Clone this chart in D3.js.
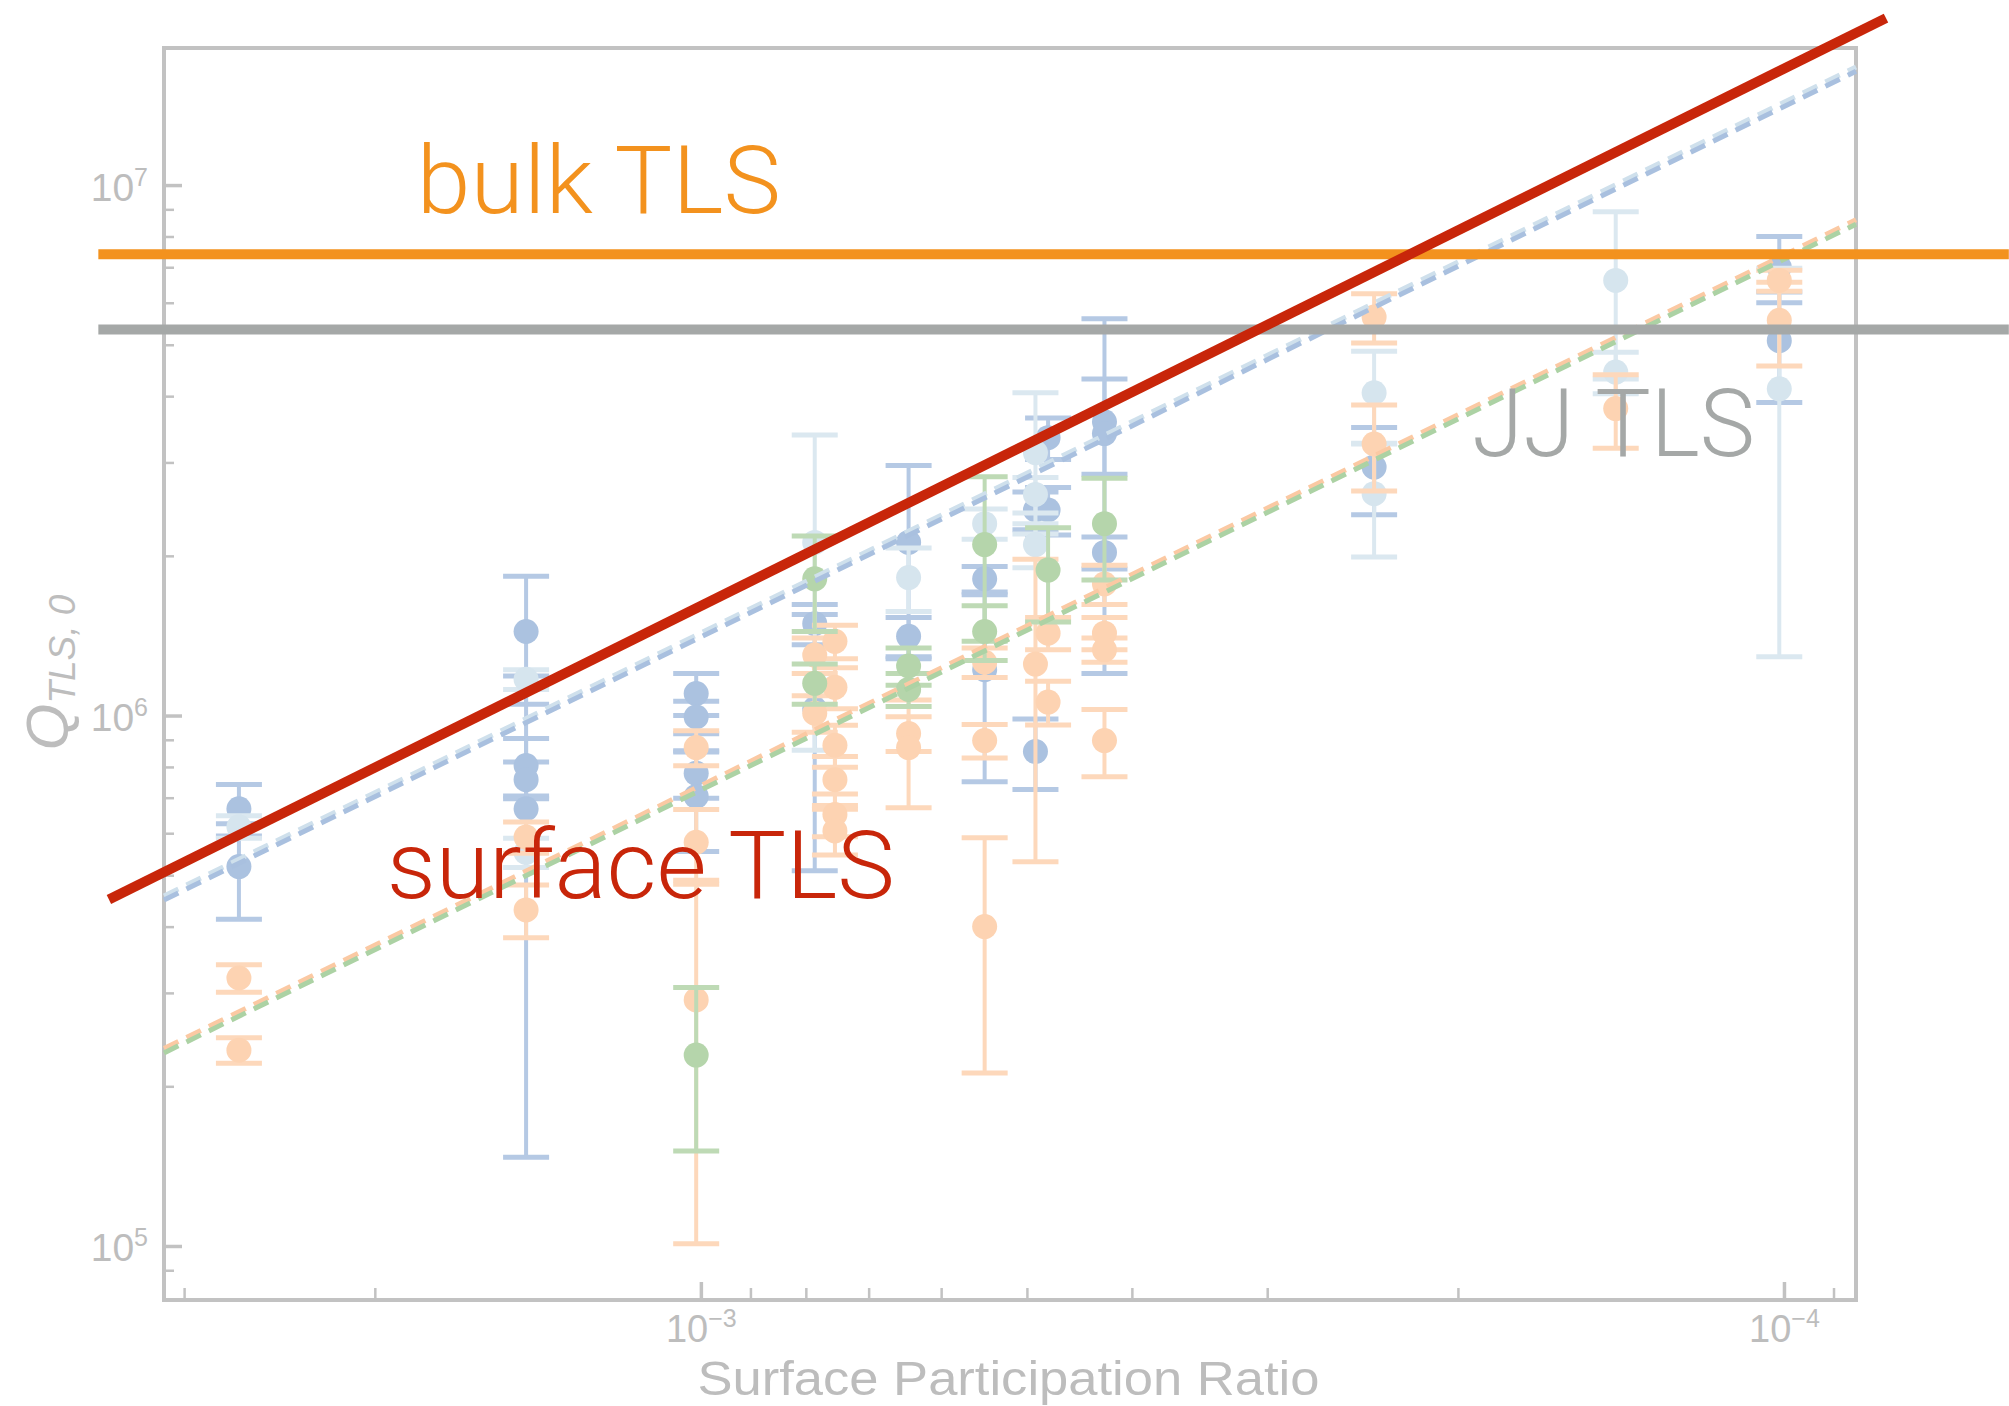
<!DOCTYPE html>
<html>
<head>
<meta charset="utf-8">
<script src="https://cdn.jsdelivr.net/npm/d3@7"></script>
<style>
  html, body { margin: 0; padding: 0; background: #fff; }
  svg { display: block; }
  .axis-text { font-family: "Liberation Sans", Arial, sans-serif; fill: #bdbdbd; }
  .note { font-family: Roboto, "Liberation Sans", sans-serif; font-weight: 300; }
</style>
</head>
<body>
<svg id="chart" width="2009" height="1406"></svg>
<script>
// axis ranges and ticks
const xDomain = [3.131e-3, 8.58e-5];
const yDomain = [7.91e4, 1.813e7];
const xMajorTicks = [1e-3, 1e-4];
const xMajorLabels = ["\u22123", "\u22124"];
const xMinorTicks = [3e-3, 2e-3, 9e-4, 8e-4, 7e-4, 6e-4, 5e-4, 4e-4, 3e-4, 2e-4, 9e-5];
const yMajorTicks = [1e5, 1e6, 1e7];
const yMajorLabels = ["5", "6", "7"];
const yMinorTicks = [9e4, 2e5, 3e5, 4e5, 5e5, 6e5, 7e5, 8e5, 9e5, 2e6, 3e6, 4e6, 5e6, 6e6, 7e6, 8e6, 9e6];

// measured points: [participation ratio, Q, error]
const blueSeries = [
  [2.67e-3, 6.67e5, 0.74e5], [2.67e-3, 5.19e5, 1.06e5],
  [1.45e-3, 1.44e6, 3.9e5], [1.45e-3, 8.05e5, 1.0e5], [1.45e-3, 7.57e5, 0.6e5], [1.45e-3, 6.67e5, 5.2e5],
  [1.01e-3, 1.10e6, 1.0e5], [1.01e-3, 9.94e5, 0.7e5], [1.01e-3, 7.78e5, 0.8e5], [1.01e-3, 7.04e5, 1.5e5],
  [7.85e-4, 1.49e6, 1.3e5], [7.85e-4, 1.03e6, 5.2e5],
  [6.43e-4, 2.12e6, 8.4e5], [6.43e-4, 1.41e6, 1.2e5],
  [5.47e-4, 1.81e6, 1.0e5], [5.47e-4, 1.22e6, 4.7e5],
  [4.91e-4, 2.44e6, 2.0e5], [4.91e-4, 8.55e5, 1.3e5],
  [4.78e-4, 3.34e6, 3.0e5], [4.78e-4, 2.44e6, 2.5e5],
  [4.24e-4, 3.58e6, 7.3e5], [4.24e-4, 3.40e6, 2.2e6], [4.24e-4, 2.03e6, 1.4e5],
  [2.39e-4, 2.94e6, 5.5e5],
  [1.01e-4, 7.0e6, 1.0e6], [1.01e-4, 5.09e6, 1.2e6]
];
const lightBlueSeries = [
  [2.67e-3, 6.17e5, 0.3e5],
  [1.45e-3, 1.17e6, 0.5e5], [1.45e-3, 5.52e5, 0.35e5],
  [7.85e-4, 2.12e6, 1.26e6],
  [6.43e-4, 1.82e6, 2.5e5],
  [5.47e-4, 2.30e6, 1.5e5],
  [4.91e-4, 3.13e6, 9.3e5], [4.91e-4, 2.61e6, 2.0e5], [4.91e-4, 2.10e6, 2.0e5],
  [2.39e-4, 4.06e6, 8.0e5], [2.39e-4, 2.62e6, 6.3e5],
  [1.43e-4, 6.61e6, 2.3e6], [1.43e-4, 4.44e6, 4.0e5],
  [1.01e-4, 4.13e6, 2.84e6]
];
const orangeSeries = [
  [2.67e-3, 3.20e5, 0.19e5], [2.67e-3, 2.34e5, 0.13e5],
  [1.45e-3, 5.9e5, 0.4e5], [1.45e-3, 4.30e5, 0.49e5],
  [1.01e-3, 8.70e5, 0.66e5], [1.01e-3, 5.77e5, 0.88e5], [1.01e-3, 2.91e5, 1.9e5],
  [7.85e-4, 1.30e6, 1.0e5], [7.85e-4, 1.01e6, 0.8e5],
  [7.52e-4, 1.38e6, 1.0e5], [7.52e-4, 1.13e6, 1.0e5], [7.52e-4, 8.79e5, 0.8e5],
  [7.52e-4, 7.57e5, 0.8e5], [7.52e-4, 6.51e5, 0.6e5], [7.52e-4, 6.06e5, 0.6e5],
  [6.43e-4, 9.25e5, 0.7e5], [6.43e-4, 8.70e5, 2.0e5],
  [5.47e-4, 1.26e6, 0.8e5], [5.47e-4, 8.97e5, 0.65e5], [5.47e-4, 4.0e5, 1.88e5],
  [4.91e-4, 1.25e6, 7.2e5],
  [4.78e-4, 1.43e6, 1.0e5], [4.78e-4, 1.06e6, 1.0e5],
  [4.24e-4, 1.77e6, 1.5e5], [4.24e-4, 1.43e6, 1.0e5], [4.24e-4, 1.33e6, 0.7e5], [4.24e-4, 8.97e5, 1.3e5],
  [2.39e-4, 5.64e6, 6.0e5], [2.39e-4, 3.25e6, 6.0e5],
  [1.43e-4, 3.79e6, 6.0e5],
  [1.01e-4, 6.61e6, 3.0e5], [1.01e-4, 5.56e6, 1.0e6]
];
const greenSeries = [
  [1.01e-3, 2.29e5, 0.78e5],
  [7.85e-4, 1.81e6, 3.7e5], [7.85e-4, 1.15e6, 1.0e5],
  [6.43e-4, 1.24e6, 1.0e5], [6.43e-4, 1.12e6, 0.8e5],
  [5.47e-4, 2.10e6, 7.2e5], [5.47e-4, 1.44e6, 1.7e5],
  [4.78e-4, 1.88e6, 3.8e5],
  [4.24e-4, 2.30e6, 5.0e5]
];

// fitted 1/p lines, endpoints read at the frame edges
const blueFit = [[3.131e-3, 4.49e5], [8.58e-5, 1.639e7]];
const lightBlueFit = [[3.131e-3, 4.57e5], [8.58e-5, 1.669e7]];
const orangeFit = [[3.131e-3, 2.356e5], [8.58e-5, 8.60e6]];
const greenFit = [[3.131e-3, 2.312e5], [8.58e-5, 8.44e6]];

// overlay limits
const surfaceLimit = [[3.52e-3, 4.50e5], [8.05e-5, 2.064e7]];
const bulkLimit = [[3.60e-3, 7.41e6], [6.2e-5, 7.41e6]];
const jjLimit = [[3.60e-3, 5.34e6], [6.2e-5, 5.34e6]];
const notes = [
  { text: "bulk TLS", p: 1.829e-3, q: 8.86e6, color: "#f3921e", len: 364 },
  { text: "surface TLS", p: 1.95e-3, q: 4.52e5, color: "#c8260a", len: 508 },
  { text: "JJ TLS", p: 1.941e-4, q: 3.09e6, color: "#a5a8a7", len: 283 }
];

const W = 2009, H = 1406;
const margin = { top: 48, right: 153, bottom: 106, left: 164 };
const svg = d3.select("#chart");

const x = d3.scaleLog().domain(xDomain).range([margin.left, W - margin.right]);
const y = d3.scaleLog().domain(yDomain).range([H - margin.bottom, margin.top]);
const frameColor = "#c2c2c2";

// frame
svg.append("rect")
  .attr("x", margin.left).attr("y", margin.top)
  .attr("width", W - margin.left - margin.right)
  .attr("height", H - margin.top - margin.bottom)
  .attr("fill", "none").attr("stroke", frameColor).attr("stroke-width", 4);

function styleAxis(g, width) {
  g.select(".domain").remove();
  g.selectAll(".tick line").attr("stroke", frameColor).attr("stroke-width", width);
  g.selectAll(".tick text").remove();
}

svg.append("g").attr("transform", `translate(0,${H - margin.bottom})`)
  .call(d3.axisBottom(x).tickValues(xMinorTicks).tickSize(-12).tickFormat(""))
  .call(g => styleAxis(g, 2.5));
const xMajor = svg.append("g").attr("transform", `translate(0,${H - margin.bottom})`)
  .call(d3.axisBottom(x).tickValues(xMajorTicks).tickSize(-18).tickFormat(""))
  .call(g => styleAxis(g, 3.5));
svg.append("g").attr("transform", `translate(${margin.left},0)`)
  .call(d3.axisLeft(y).tickValues(yMinorTicks).tickSize(-10).tickFormat(""))
  .call(g => styleAxis(g, 2.5));
const yMajor = svg.append("g").attr("transform", `translate(${margin.left},0)`)
  .call(d3.axisLeft(y).tickValues(yMajorTicks).tickSize(-18).tickFormat(""))
  .call(g => styleAxis(g, 3.5));

// power-of-ten labels
xMajor.selectAll(".tick").each(function (d, i) {
  const t = d3.select(this).append("text").attr("class", "axis-text")
    .attr("y", 42).attr("text-anchor", "middle").attr("font-size", 38);
  t.append("tspan").text("10");
  t.append("tspan").attr("dy", -15).attr("font-size", 25).text(xMajorLabels[i]);
});
yMajor.selectAll(".tick").each(function (d, i) {
  const t = d3.select(this).append("text").attr("class", "axis-text")
    .attr("x", -16).attr("y", 15).attr("text-anchor", "end").attr("font-size", 39);
  t.append("tspan").text("10");
  t.append("tspan").attr("dy", -15).attr("font-size", 25).text(yMajorLabels[i]);
});

// axis titles
svg.append("text").attr("class", "axis-text")
  .attr("x", x(5.2e-4)).attr("y", H - 11)
  .attr("text-anchor", "middle").attr("font-size", 48)
  .attr("textLength", 622).attr("lengthAdjust", "spacingAndGlyphs")
  .text("Surface Participation Ratio");

const yTitle = svg.append("text").attr("class", "axis-text")
  .attr("transform", `translate(68,${y(8.6e5)}) rotate(-90)`)
  .attr("font-style", "italic").attr("fill", "#c4c4c4");
yTitle.append("tspan").attr("font-size", 60).text("Q");
yTitle.append("tspan").attr("font-size", 37).attr("dy", 7).text("TLS, 0");

// data series
const seriesList = [
  { data: blueSeries, color: "#abc2e0" },
  { data: lightBlueSeries, color: "#d6e5ee" },
  { data: orangeSeries, color: "#fdd3b2" },
  { data: greenSeries, color: "#b5d5ab" }
];
const capHalf = 23;
const pointsLayer = svg.append("g");
seriesList.forEach(s => {
  const g = pointsLayer.append("g");
  const barColor = d3.interpolateRgb(s.color, "#ffffff")(0.12);
  const bars = g.selectAll(".err").data(s.data).join("g").attr("class", "err")
    .attr("stroke", barColor);
  bars.append("line")
    .attr("x1", d => x(d[0])).attr("x2", d => x(d[0]))
    .attr("y1", d => y(d[1] - d[2])).attr("y2", d => y(d[1] + d[2]))
    .attr("stroke-width", 4);
  bars.append("line")
    .attr("x1", d => x(d[0]) - capHalf).attr("x2", d => x(d[0]) + capHalf)
    .attr("y1", d => y(d[1] - d[2])).attr("y2", d => y(d[1] - d[2]))
    .attr("stroke-width", 5);
  bars.append("line")
    .attr("x1", d => x(d[0]) - capHalf).attr("x2", d => x(d[0]) + capHalf)
    .attr("y1", d => y(d[1] + d[2])).attr("y2", d => y(d[1] + d[2]))
    .attr("stroke-width", 5);
  g.selectAll("circle").data(s.data).join("circle")
    .attr("cx", d => x(d[0])).attr("cy", d => y(d[1]))
    .attr("r", 12.5).attr("fill", s.color);
});

// dashed fits
const line = d3.line().x(d => x(d[0])).y(d => y(d[1]));
[
  { data: lightBlueFit, color: "#cfe0ec" },
  { data: blueFit, color: "#a9c0df" },
  { data: orangeFit, color: "#fbc9a3" },
  { data: greenFit, color: "#acd2a4" }
].forEach(f => {
  svg.append("path").attr("d", line(f.data))
    .attr("fill", "none").attr("stroke", f.color)
    .attr("stroke-width", 5).attr("stroke-dasharray", "16 9");
});

// overlay limits
[
  { data: bulkLimit, color: "#f3921e" },
  { data: jjLimit, color: "#a5a8a7" },
  { data: surfaceLimit, color: "#c8260a" }
].forEach(l => {
  svg.append("path").attr("d", line(l.data))
    .attr("fill", "none").attr("stroke", l.color).attr("stroke-width", 10);
});

svg.selectAll(".note").data(notes).join("text").attr("class", "note")
  .attr("x", d => x(d.p)).attr("y", d => y(d.q))
  .attr("font-size", 95).attr("fill", d => d.color)
  .attr("textLength", d => d.len).attr("lengthAdjust", "spacingAndGlyphs")
  .text(d => d.text);
</script>
</body>
</html>
